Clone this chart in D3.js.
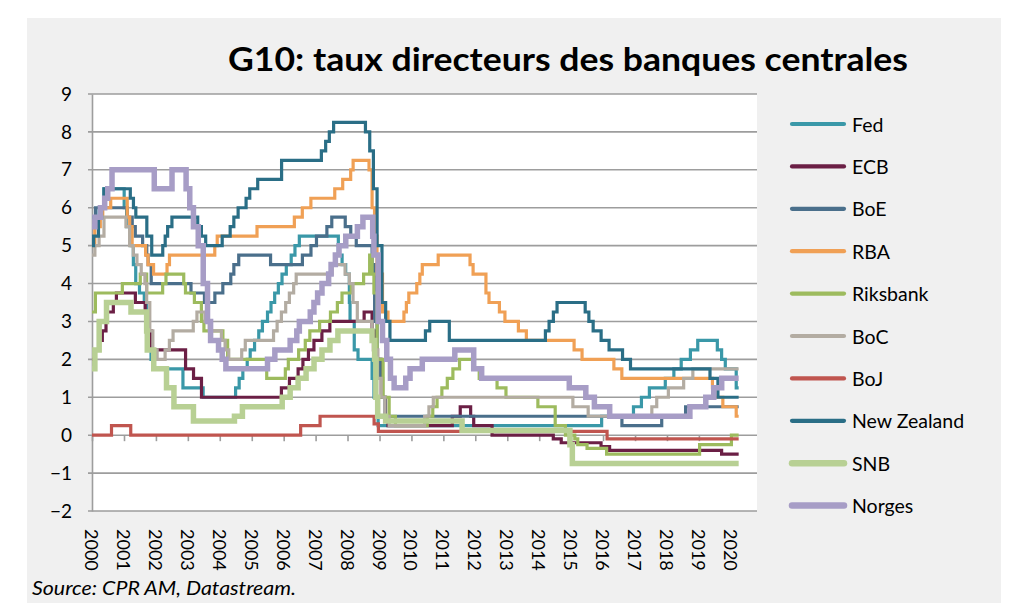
<!DOCTYPE html>
<html><head><meta charset="utf-8">
<script src="https://cdn.jsdelivr.net/npm/d3@7"></script>
<style>body{margin:0;background:#fff;} svg{display:block;}</style>
</head><body>
<svg id="chart" width="1024" height="612"></svg>
<script>
// ---------- data ----------
const titleText = "G10: taux directeurs des banques centrales";
const sourceText = "Source: CPR AM, Datastream.";
const yearLabels = ["2000","2001","2002","2003","2004","2005","2006","2007","2008","2009","2010","2011","2012","2013","2014","2015","2016","2017","2018","2019","2020"];
const yTickValues = [-2,-1,0,1,2,3,4,5,6,7,8,9];
const seriesNames = ["Fed","ECB","BoE","RBA","Riksbank","BoC","BoJ","New Zealand","SNB","Norges"];
const endDate = "2020-03-31";

const fedRates = [["2000-01-01",5.5],["2000-02-02",5.75],["2000-03-21",6.0],["2000-05-16",6.5],["2001-01-03",6.0],["2001-01-31",5.5],["2001-03-20",5.0],["2001-04-18",4.5],["2001-05-15",4.0],["2001-06-27",3.75],["2001-08-21",3.5],["2001-09-17",3.0],["2001-10-02",2.5],["2001-11-06",2.0],["2001-12-11",1.75],["2002-11-06",1.25],["2003-06-25",1.0],["2004-06-30",1.25],["2004-08-10",1.5],["2004-09-21",1.75],["2004-11-10",2.0],["2004-12-14",2.25],["2005-02-02",2.5],["2005-03-22",2.75],["2005-05-03",3.0],["2005-06-30",3.25],["2005-08-09",3.5],["2005-09-20",3.75],["2005-11-01",4.0],["2005-12-13",4.25],["2006-01-31",4.5],["2006-03-28",4.75],["2006-05-10",5.0],["2006-06-29",5.25],["2007-09-18",4.75],["2007-10-31",4.5],["2007-12-11",4.25],["2008-01-22",3.5],["2008-01-30",3.0],["2008-03-18",2.25],["2008-04-30",2.0],["2008-10-08",1.5],["2008-10-29",1.0],["2008-12-16",0.25],["2015-12-16",0.5],["2016-12-14",0.75],["2017-03-15",1.0],["2017-06-14",1.25],["2017-12-13",1.5],["2018-03-21",1.75],["2018-06-13",2.0],["2018-09-26",2.25],["2018-12-19",2.5],["2019-07-31",2.25],["2019-09-18",2.0],["2019-10-30",1.75],["2020-03-03",1.25]];

const ecbRates = [["2000-01-01",2.0],["2000-02-04",2.25],["2000-03-17",2.5],["2000-04-28",2.75],["2000-06-09",3.25],["2000-09-01",3.5],["2000-10-06",3.75],["2001-05-11",3.5],["2001-08-31",3.25],["2001-09-18",2.75],["2001-11-09",2.25],["2002-12-06",1.75],["2003-03-07",1.5],["2003-06-06",1.0],["2005-12-06",1.25],["2006-03-08",1.5],["2006-06-15",1.75],["2006-08-09",2.0],["2006-10-11",2.25],["2006-12-13",2.5],["2007-03-14",2.75],["2007-06-13",3.0],["2008-07-09",3.25],["2008-10-08",2.75],["2008-11-12",2.25],["2008-12-10",2.0],["2009-01-21",1.0],["2009-03-11",0.5],["2009-04-08",0.25],["2011-04-13",0.5],["2011-07-13",0.75],["2011-11-09",0.5],["2011-12-14",0.25],["2012-07-11",0.0],["2014-06-11",-0.1],["2014-09-10",-0.2],["2015-12-09",-0.3],["2016-03-16",-0.4],["2019-09-18",-0.5]];

const boeRates = [["2000-01-01",5.75],["2000-02-10",6.0],["2001-02-08",5.75],["2001-04-05",5.5],["2001-05-10",5.25],["2001-08-02",5.0],["2001-09-18",4.75],["2001-10-04",4.5],["2001-11-08",4.0],["2003-02-06",3.75],["2003-07-10",3.5],["2003-11-06",3.75],["2004-02-05",4.0],["2004-05-06",4.25],["2004-06-10",4.5],["2004-08-05",4.75],["2005-08-04",4.5],["2006-08-03",4.75],["2006-11-09",5.0],["2007-01-11",5.25],["2007-05-10",5.5],["2007-07-05",5.75],["2007-12-06",5.5],["2008-02-07",5.25],["2008-04-10",5.0],["2008-10-08",4.5],["2008-11-06",3.0],["2008-12-04",2.0],["2009-01-08",1.5],["2009-02-05",1.0],["2009-03-05",0.5],["2016-08-04",0.25],["2017-11-02",0.5],["2018-08-02",0.75]];

const rbaRates = [["2000-01-01",5.0],["2000-02-02",5.5],["2000-04-05",5.75],["2000-05-03",6.0],["2000-08-02",6.25],["2001-02-07",5.75],["2001-03-07",5.5],["2001-04-04",5.0],["2001-09-05",4.75],["2001-10-03",4.5],["2001-12-05",4.25],["2002-05-08",4.5],["2002-06-05",4.75],["2003-11-05",5.0],["2003-12-03",5.25],["2005-03-02",5.5],["2006-05-03",5.75],["2006-08-02",6.0],["2006-11-08",6.25],["2007-08-08",6.5],["2007-11-07",6.75],["2008-02-06",7.0],["2008-03-05",7.25],["2008-09-03",7.0],["2008-10-08",6.0],["2008-11-05",5.25],["2008-12-03",4.25],["2009-02-04",3.25],["2009-04-08",3.0],["2009-10-07",3.25],["2009-11-04",3.5],["2009-12-02",3.75],["2010-03-03",4.0],["2010-04-07",4.25],["2010-05-05",4.5],["2010-11-03",4.75],["2011-11-02",4.5],["2011-12-07",4.25],["2012-05-02",3.75],["2012-06-06",3.5],["2012-10-03",3.25],["2012-12-05",3.0],["2013-05-08",2.75],["2013-08-07",2.5],["2015-02-04",2.25],["2015-05-06",2.0],["2016-05-04",1.75],["2016-08-03",1.5],["2019-06-05",1.25],["2019-07-03",1.0],["2019-10-02",0.75],["2020-03-03",0.5]];

const riksRates = [["2000-01-01",3.25],["2000-02-09",3.75],["2000-12-13",4.0],["2001-07-06",4.25],["2001-09-17",3.75],["2002-03-19",4.0],["2002-04-26",4.25],["2002-11-15",4.0],["2002-12-05",3.75],["2003-03-17",3.5],["2003-06-05",3.0],["2003-07-04",2.75],["2004-02-06",2.5],["2004-03-31",2.0],["2005-06-21",1.5],["2006-01-20",1.75],["2006-02-23",2.0],["2006-06-21",2.25],["2006-09-05",2.5],["2006-10-27",2.75],["2007-02-16",3.0],["2007-06-20",3.25],["2007-09-07",3.5],["2007-10-30",3.75],["2008-02-13",4.0],["2008-07-03",4.25],["2008-09-10",4.75],["2008-10-08",4.25],["2008-10-29",3.75],["2008-12-04",2.0],["2009-02-11",1.0],["2009-04-21",0.5],["2009-07-02",0.25],["2010-07-01",0.5],["2010-09-02",0.75],["2010-10-21",1.0],["2010-12-15",1.25],["2011-02-15",1.5],["2011-04-20",1.75],["2011-07-05",2.0],["2011-12-20",1.75],["2012-02-15",1.5],["2012-09-06",1.25],["2012-12-17",1.0],["2013-12-17",0.75],["2014-07-03",0.25],["2014-10-28",0.0],["2015-02-12",-0.1],["2015-03-18",-0.25],["2015-07-02",-0.35],["2016-02-11",-0.5],["2019-01-09",-0.25],["2020-01-08",0.0]];

const bocRates = [["2000-01-01",4.75],["2000-02-03",5.0],["2000-03-22",5.25],["2000-05-17",5.75],["2001-01-23",5.5],["2001-03-06",5.0],["2001-04-17",4.75],["2001-05-29",4.5],["2001-07-17",4.25],["2001-08-28",4.0],["2001-09-17",3.5],["2001-10-23",2.75],["2001-11-27",2.25],["2002-01-15",2.0],["2002-04-16",2.25],["2002-06-04",2.5],["2002-07-16",2.75],["2003-03-04",3.0],["2003-04-15",3.25],["2003-07-15",3.0],["2003-09-03",2.75],["2004-01-20",2.5],["2004-03-02",2.25],["2004-04-13",2.0],["2004-09-08",2.25],["2004-10-19",2.5],["2005-09-07",2.75],["2005-10-18",3.0],["2005-12-06",3.25],["2006-01-24",3.5],["2006-03-07",3.75],["2006-04-25",4.0],["2006-05-24",4.25],["2007-07-10",4.5],["2007-12-04",4.25],["2008-01-22",4.0],["2008-03-04",3.5],["2008-04-22",3.0],["2008-10-08",2.5],["2008-10-21",2.25],["2008-12-09",1.5],["2009-01-20",1.0],["2009-03-03",0.5],["2009-04-21",0.25],["2010-06-01",0.5],["2010-07-20",0.75],["2010-09-08",1.0],["2015-01-21",0.75],["2015-07-15",0.5],["2017-07-12",0.75],["2017-09-06",1.0],["2018-01-17",1.25],["2018-07-11",1.5],["2018-10-24",1.75]];

const bojRates = [["2000-01-01",0.0],["2000-08-11",0.25],["2001-03-19",0.0],["2006-07-14",0.25],["2007-02-21",0.5],["2008-10-31",0.3],["2008-12-19",0.1],["2016-02-16",-0.1]];

const nzRates = [["2000-01-01",5.0],["2000-01-19",5.25],["2000-03-15",5.75],["2000-04-19",6.0],["2000-05-17",6.5],["2001-03-14",6.25],["2001-04-19",6.0],["2001-05-16",5.75],["2001-09-19",5.25],["2001-11-14",4.75],["2002-03-20",5.0],["2002-04-17",5.25],["2002-05-15",5.5],["2002-07-03",5.75],["2003-04-24",5.5],["2003-06-05",5.25],["2003-07-24",5.0],["2004-01-29",5.25],["2004-04-29",5.5],["2004-06-10",5.75],["2004-07-29",6.0],["2004-10-28",6.25],["2004-12-09",6.5],["2005-03-10",6.75],["2005-12-08",7.25],["2007-03-08",7.5],["2007-04-26",7.75],["2007-06-07",8.0],["2007-07-26",8.25],["2008-07-24",8.0],["2008-09-11",7.5],["2008-10-23",6.5],["2008-12-04",5.0],["2009-01-29",3.5],["2009-03-12",3.0],["2009-04-30",2.5],["2010-06-10",2.75],["2010-07-29",3.0],["2011-03-10",2.5],["2014-03-13",2.75],["2014-04-24",3.0],["2014-06-12",3.25],["2014-07-24",3.5],["2015-06-11",3.25],["2015-07-23",3.0],["2015-09-10",2.75],["2015-12-10",2.5],["2016-03-10",2.25],["2016-08-11",2.0],["2016-11-10",1.75],["2019-05-08",1.5],["2019-08-07",1.0]];

const snbRates = [["2000-01-01",1.75],["2000-02-03",2.25],["2000-03-23",3.0],["2000-06-15",3.5],["2001-03-22",3.25],["2001-09-17",2.75],["2001-09-24",2.25],["2001-12-07",1.75],["2002-05-02",1.25],["2002-07-26",0.75],["2003-03-06",0.375],["2004-06-17",0.5],["2004-09-16",0.75],["2005-12-15",1.0],["2006-03-16",1.25],["2006-06-15",1.5],["2006-09-14",1.75],["2006-12-14",2.0],["2007-03-15",2.25],["2007-06-14",2.5],["2007-09-13",2.75],["2008-10-08",2.5],["2008-11-06",2.0],["2008-11-20",1.0],["2008-12-11",0.5],["2009-03-12",0.375],["2011-08-03",0.125],["2014-12-18",-0.25],["2015-01-15",-0.75]];

const norgesRates = [["2000-01-01",5.5],["2000-02-03",5.75],["2000-04-06",6.0],["2000-05-25",6.25],["2000-06-29",6.5],["2000-08-17",7.0],["2001-12-13",6.5],["2002-07-04",7.0],["2002-12-12",6.5],["2003-01-23",6.0],["2003-03-06",5.5],["2003-04-30",5.0],["2003-06-26",4.0],["2003-08-14",3.0],["2003-09-18",2.5],["2003-12-18",2.25],["2004-01-29",2.0],["2004-03-11",1.75],["2005-06-30",2.0],["2005-09-22",2.25],["2006-03-16",2.5],["2006-05-31",2.75],["2006-06-29",3.0],["2006-11-01",3.25],["2006-12-13",3.5],["2007-01-24",3.75],["2007-03-15",4.0],["2007-05-30",4.25],["2007-06-27",4.5],["2007-08-15",4.75],["2007-09-26",5.0],["2007-12-12",5.25],["2008-04-23",5.5],["2008-06-25",5.75],["2008-10-15",5.25],["2008-10-29",4.75],["2008-12-17",3.0],["2009-02-04",2.5],["2009-03-25",2.0],["2009-05-06",1.5],["2009-06-17",1.25],["2009-10-28",1.5],["2009-12-16",1.75],["2010-05-05",2.0],["2011-05-12",2.25],["2011-12-14",1.75],["2012-03-14",1.5],["2014-12-11",1.25],["2015-06-18",1.0],["2015-09-24",0.75],["2016-03-17",0.5],["2018-09-20",0.75],["2019-03-21",1.0],["2019-06-20",1.25],["2019-09-19",1.5]];

const seriesData = [fedRates, ecbRates, boeRates, rbaRates, riksRates, bocRates, bojRates, nzRates, snbRates, norgesRates];
const seriesColors = ["#3a98a8","#6b1f45","#4a6f8b","#f0a055","#9dbb5e","#b3aca2","#c0554f","#2a6e86","#b8d094","#a79dc6"];
const seriesWidths = [3.2,3.2,3.2,3.2,3.2,3.2,3.2,3.2,5.5,5.5];

// ---------- chart ----------
const svg = d3.select("#chart");
const FONT = "Lato, 'Open Sans', sans-serif";
svg.append("rect").attr("x",27).attr("y",18).attr("width",974).attr("height",585).attr("fill","#f0f0f0");

const P = {left:92, right:757, top:94, bottom:511};
const parse = d3.timeParse("%Y-%m-%d");
const x = d3.scaleTime().domain([new Date(2000,0,1), new Date(2020,0,1)]).range([92, 730.8]);
const y = d3.scaleLinear().domain([-2,9]).range([P.bottom, P.top]);

svg.append("rect").attr("x",P.left).attr("y",P.top).attr("width",P.right-P.left).attr("height",P.bottom-P.top).attr("fill","#fff");

// gridlines
svg.append("g").selectAll("line").data(yTickValues).join("line")
  .attr("x1",P.left-4).attr("x2",P.right)
  .attr("y1",d=>y(d)).attr("y2",d=>y(d))
  .attr("stroke","#9d9d9d").attr("stroke-width",1.6);

// y axis
const yAxis = svg.append("g").attr("transform",`translate(${P.left},0)`)
  .call(d3.axisLeft(y).tickValues(yTickValues).tickSize(0).tickPadding(20).tickFormat(d3.format("d")));
yAxis.select(".domain").attr("stroke","#9d9d9d").attr("stroke-width",1.6);
yAxis.selectAll("text").attr("font-family",FONT).attr("font-size",19).attr("fill","#000");

// x axis ticks on zero line
const yearDates = yearLabels.map(s=>new Date(+s,0,1));
const xAxis = svg.append("g").attr("transform",`translate(0,${y(0)})`)
  .call(d3.axisBottom(x).tickValues(yearDates).tickSize(6).tickFormat(""));
xAxis.select(".domain").remove();
xAxis.selectAll("line").attr("stroke","#9d9d9d").attr("stroke-width",1.6);

// x labels (rotated)
svg.append("g").selectAll("text").data(yearLabels).join("text")
  .attr("transform",d=>`translate(${x(new Date(+d,0,1))},529) rotate(90)`)
  .attr("text-anchor","start").attr("dominant-baseline","central")
  .attr("font-family",FONT).attr("font-size",18).attr("fill","#000")
  .text(d=>d);

// lines
const line = d3.line().x(d=>x(d[0])).y(d=>y(d[1])).curve(d3.curveStepAfter);
seriesData.forEach((s,i)=>{
  const pts = s.map(d=>[parse(d[0]), d[1]]);
  pts.push([parse(endDate), s[s.length-1][1]]);
  svg.append("path").datum(pts).attr("d",line)
    .attr("fill","none").attr("stroke",seriesColors[i]).attr("stroke-width",seriesWidths[i])
    .attr("stroke-linejoin","miter");
});

// legend
const lg = svg.append("g");
seriesNames.forEach((n,i)=>{
  const yy = 124 + i*42.4;
  lg.append("line").attr("x1",792).attr("x2",844).attr("y1",yy).attr("y2",yy)
    .attr("stroke",seriesColors[i]).attr("stroke-width",seriesWidths[i]+1).attr("stroke-linecap","round");
  lg.append("text").attr("x",852).attr("y",yy).attr("dominant-baseline","central")
    .attr("font-family",FONT).attr("font-size",19.5).attr("fill","#000").text(n);
});

// title
svg.append("text").attr("x",568).attr("y",71).attr("text-anchor","middle")
  .attr("font-family",FONT).attr("font-weight","bold").attr("font-size",33)
  .attr("textLength",680).attr("lengthAdjust","spacingAndGlyphs")
  .attr("fill","#000").text(titleText);

// source
svg.append("text").attr("x",32).attr("y",595)
  .attr("font-family",FONT).attr("font-style","italic").attr("font-size",19)
  .attr("textLength",264).attr("lengthAdjust","spacingAndGlyphs")
  .attr("fill","#000").text(sourceText);
</script>
</body></html>
